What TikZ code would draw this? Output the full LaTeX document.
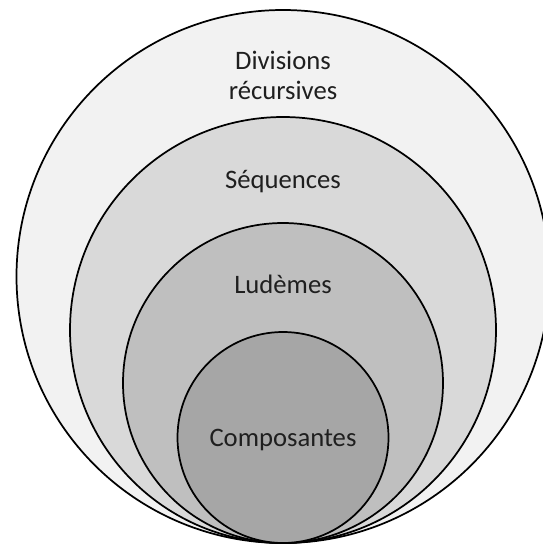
\documentclass[tikz,border=0pt]{standalone}
\usepackage{fontspec}
\setmainfont{Carlito}
\usepackage{tikz}

\definecolor{ringA}{HTML}{F2F2F2}
\definecolor{ringB}{HTML}{D9D9D9}
\definecolor{ringC}{HTML}{BFBFBF}
\definecolor{ringD}{HTML}{A6A6A6}

\begin{document}
\begin{tikzpicture}[x=0.75pt, y=-0.75pt,
    ring/.style={circle, draw=black, line width=1.3pt, inner sep=0pt},
    lbl/.style={anchor=base, align=center, inner sep=0pt, text=black!88,
      font=\fontsize{20}{22.5}\selectfont}]
  \clip (0, 0) rectangle (543, 544);
  %
  \newcommand{\baseX}{283}
  \newcommand{\baseY}{543}
  %
  \foreach \name/\r/\col in {outer/266.5/ringA, seq/213/ringB, lud/160/ringC, comp/105.5/ringD} {
    \pgfmathsetmacro{\dia}{1.5 * \r}
    \node[ring, fill=\col, minimum size=\dia pt] at (\baseX, \baseY - \r) (\name) {};
  }
  %
  \node[lbl] at (\baseX, 99) (divisions) {Divisions\\récursives};
  \node[lbl] at (\baseX, 188) (sequences) {Séquences};
  \node[lbl] at (\baseX, 293) (ludemes) {Ludèmes};
  \node[lbl] at (\baseX, 446) (composantes) {Composantes};
\end{tikzpicture}
\end{document}
